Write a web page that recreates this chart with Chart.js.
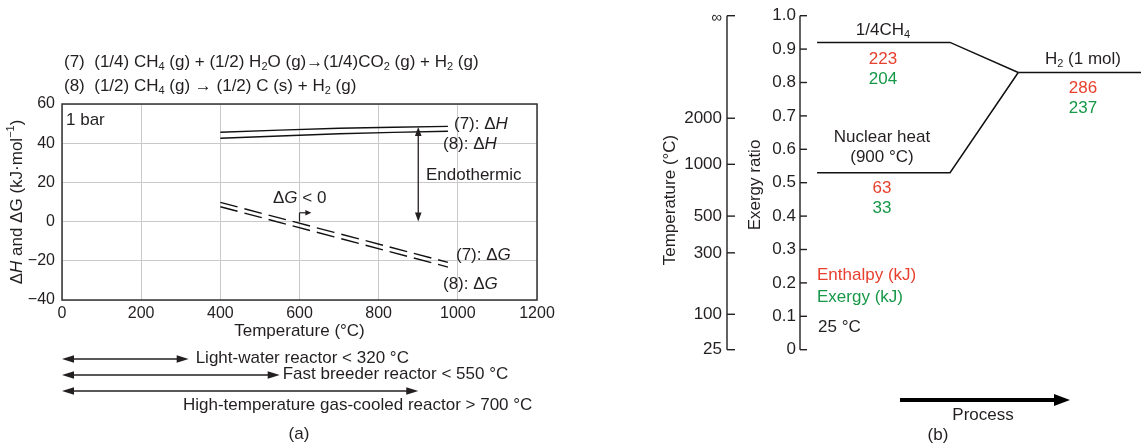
<!DOCTYPE html>
<html><head><meta charset="utf-8">
<script src="https://cdn.jsdelivr.net/npm/chart.js@4.4.1/dist/chart.umd.min.js"></script>
<style>
html,body{margin:0;padding:0;background:#fff;}
#wrap{position:relative;width:1141px;height:444px;overflow:hidden;}
canvas{position:absolute;top:0;}
</style></head>
<body>
<div id="wrap">
<canvas id="ca" width="570" height="444" style="left:0"></canvas>
<canvas id="cb" width="571" height="444" style="left:570px"></canvas>
</div>
<script>
// ---------- Panel (a) data ----------
const hX = [400, 700, 975];
const dH7 = [45.6, 47.6, 48.6];
const dH8 = [42.5, 44.8, 46.1];
const gX = [400, 975];
const dG7 = [9.8, -20.8];
const dG8 = [7.6, -23.2];
const endoT = 900;          // Endothermic arrow temperature
const dGzeroT = 600;        // ΔG < 0 marker temperature
const reactorNames = ['Light-water reactor < 320 °C', 'Fast breeder reactor < 550 °C', 'High-temperature gas-cooled reactor > 700 °C'];
const reactorLimits = [320, 550, 900];

// ---------- Panel (b) data ----------
const procX = [0.5, 4.4, 6.4, 10];
const ch4Ratio = 0.92, nucRatio = 0.53, h2Ratio = 0.83;
const exergyTicks = [0, 0.1, 0.2, 0.3, 0.4, 0.5, 0.6, 0.7, 0.8, 0.9, 1.0];
const tempLabels = ['∞', '2000', '1000', '500', '300', '100', '25'];
const tempPos = [1.0, 0.693, 0.555, 0.40, 0.29, 0.106, 0];
const enthalpyKJ = [223, 63, 286];
const exergyKJ = [204, 33, 237];

const FONT = '"Liberation Sans", Arial, Helvetica, sans-serif';
const INK = '#231f20';
const RED = '#e8402e';
const GREEN = '#169848';

function rich(ctx, x, y, parts, align, size) {
  size = size || 17;
  const fontOf = t => {
    if (t === 'sub' || t === 'sup') return Math.round(size * 0.62) + 'px ' + FONT;
    if (t === 'i') return 'italic ' + size + 'px ' + FONT;
    return size + 'px ' + FONT;
  };
  let total = 0;
  const ws = parts.map(p => { ctx.font = fontOf(p[1]); const w = ctx.measureText(p[0]).width; total += w; return w; });
  let cx = x;
  if (align === 'center') cx = x - total / 2;
  else if (align === 'right') cx = x - total;
  ctx.textAlign = 'left';
  ctx.textBaseline = 'middle';
  parts.forEach((p, i) => {
    ctx.font = fontOf(p[1]);
    let dy = 0;
    if (p[1] === 'sub') dy = size * 0.32;
    if (p[1] === 'sup') dy = -size * 0.35;
    ctx.fillText(p[0], cx, y + dy);
    cx += ws[i];
  });
}
function arrowHead(ctx, x, y, ang, len, w) {
  ctx.beginPath();
  ctx.moveTo(x, y);
  ctx.lineTo(x - len * Math.cos(ang) + w * Math.sin(ang), y - len * Math.sin(ang) - w * Math.cos(ang));
  ctx.lineTo(x - len * Math.cos(ang) - w * Math.sin(ang), y - len * Math.sin(ang) + w * Math.cos(ang));
  ctx.closePath();
  ctx.fill();
}
function arrow(ctx, x1, y1, x2, y2, both, lw, len, w) {
  lw = lw || 1.3; len = len || 9; w = w || 3.2;
  const ang = Math.atan2(y2 - y1, x2 - x1);
  ctx.lineWidth = lw;
  ctx.beginPath();
  ctx.moveTo(x1 + (both ? Math.cos(ang) * len * 0.7 : 0), y1 + (both ? Math.sin(ang) * len * 0.7 : 0));
  ctx.lineTo(x2 - Math.cos(ang) * len * 0.7, y2 - Math.sin(ang) * len * 0.7);
  ctx.stroke();
  arrowHead(ctx, x2, y2, ang, len, w);
  if (both) arrowHead(ctx, x1, y1, ang + Math.PI, len, w);
}

const pts = (xs, ys) => xs.map((x, i) => ({ x: x, y: ys[i] }));

// ---------- Chart (a) ----------
const annotA = {
  id: 'annotA',
  afterDraw(chart) {
    const ctx = chart.ctx, a = chart.chartArea;
    const xs = chart.scales.x, ys = chart.scales.y;
    ctx.save();
    ctx.strokeStyle = '#333';
    ctx.lineWidth = 1.5;
    ctx.strokeRect(a.left, a.top, a.right - a.left, a.bottom - a.top);
    ctx.fillStyle = INK; ctx.strokeStyle = INK;
    // equations
    rich(ctx, 64, 62, [['(7)  (1/4) CH', 'n'], ['4', 'sub'], [' (g) + (1/2) H', 'n'], ['2', 'sub'], ['O (g)\u2192(1/4)CO', 'n'], ['2', 'sub'], [' (g) + H', 'n'], ['2', 'sub'], [' (g)', 'n']]);
    rich(ctx, 64, 86, [['(8)  (1/2) CH', 'n'], ['4', 'sub'], [' (g) \u2192 (1/2) C (s) + H', 'n'], ['2', 'sub'], [' (g)', 'n']]);
    // 1 bar
    rich(ctx, 66, 120, [['1 bar', 'n']]);
    // line labels
    rich(ctx, 454, 124, [['(7): \u0394', 'n'], ['H', 'i']]);
    rich(ctx, 443, 144, [['(8): \u0394', 'n'], ['H', 'i']]);
    rich(ctx, 456, 255, [['(7): \u0394', 'n'], ['G', 'i']]);
    rich(ctx, 443, 284, [['(8): \u0394', 'n'], ['G', 'i']]);
    // endothermic arrow
    const ex = xs.getPixelForValue(endoT);
    arrow(ctx, ex, ys.getPixelForValue(48.3), ex, ys.getPixelForValue(0), true, 1.3, 9, 3.3);
    rich(ctx, 426, 175, [['Endothermic', 'n']]);
    // ΔG < 0
    rich(ctx, 273, 198, [['\u0394', 'n'], ['G', 'i'], [' < 0', 'n']]);
    const gx = xs.getPixelForValue(dGzeroT);
    const gy0 = ys.getPixelForValue(0), gy1 = ys.getPixelForValue(4.5);
    ctx.lineWidth = 1.2;
    ctx.beginPath(); ctx.moveTo(gx, gy0); ctx.lineTo(gx, gy1); ctx.stroke();
    arrow(ctx, gx, gy1, xs.getPixelForValue(630), gy1, false, 1.2, 6, 2.8);
    // axis titles
    ctx.fillStyle = INK;
    rich(ctx, (a.left + a.right) / 2, 331, [['Temperature (\u00b0C)', 'n']], 'center');
    ctx.save();
    ctx.translate(17, (a.top + a.bottom) / 2);
    ctx.rotate(-Math.PI / 2);
    rich(ctx, 0, 0, [['\u0394', 'n'], ['H', 'i'], [' and \u0394G (kJ\u00b7mol', 'n'], ['\u22121', 'sup'], [')', 'n']], 'center');
    ctx.restore();
    // reactor arrows
    const ry = [359, 375, 391];
    reactorLimits.forEach((t, i) => {
      arrow(ctx, xs.getPixelForValue(0), ry[i], xs.getPixelForValue(t), ry[i], true, 1.5, 12, 3.8);
    });
    rich(ctx, xs.getPixelForValue(reactorLimits[0]) + 7, ry[0] - 1, [[reactorNames[0], 'n']]);
    rich(ctx, xs.getPixelForValue(reactorLimits[1]) + 3, ry[1] - 1, [[reactorNames[1], 'n']]);
    rich(ctx, 183, 405, [[reactorNames[2], 'n']]);
    rich(ctx, 299, 434, [['(a)', 'n']], 'center');
    ctx.restore();
  }
};

const lineStyle = { borderColor: '#111', borderWidth: 1.4, pointRadius: 0, fill: false, tension: 0.3 };
new Chart(document.getElementById('ca'), {
  type: 'line',
  data: {
    datasets: [
      Object.assign({ label: '(7): ΔH', data: pts(hX, dH7) }, lineStyle),
      Object.assign({ label: '(8): ΔH', data: pts(hX, dH8) }, lineStyle),
      Object.assign({ label: '(7): ΔG', data: pts(gX, dG7), borderDash: [18, 7] }, lineStyle),
      Object.assign({ label: '(8): ΔG', data: pts(gX, dG8), borderDash: [18, 7] }, lineStyle)
    ]
  },
  options: {
    responsive: false, animation: false, devicePixelRatio: 1,
    layout: { padding: { left: 0, top: 104, right: 33, bottom: 0 } },
    plugins: { legend: { display: false }, tooltip: { enabled: false } },
    scales: {
      x: {
        type: 'linear', min: 0, max: 1200,
        afterFit: s => { s.height = 144; },
        grid: { color: '#c9c9c9', lineWidth: 1, drawTicks: false },
        border: { display: false },
        ticks: { stepSize: 200, padding: 4, color: INK, font: { family: FONT, size: 16 },
          callback: v => String(v) }
      },
      y: {
        min: -40, max: 60,
        afterFit: s => { s.width = 62; },
        grid: { color: '#c9c9c9', lineWidth: 1, drawTicks: false },
        border: { display: false },
        ticks: { stepSize: 20, padding: 7, color: INK, font: { family: FONT, size: 16 },
          callback: v => String(v).replace('-', '\u2212') }
      }
    }
  },
  plugins: [annotA]
});

// ---------- Chart (b) ----------
const annotB = {
  id: 'annotB',
  afterDraw(chart) {
    const ctx = chart.ctx, a = chart.chartArea;
    const ys = chart.scales.y;
    ctx.save();
    ctx.fillStyle = INK; ctx.strokeStyle = INK;
    ctx.lineWidth = 1.4;
    // exergy axis
    const ax = a.left, tx = 157;
    ctx.beginPath(); ctx.moveTo(ax, ys.getPixelForValue(1)); ctx.lineTo(ax, ys.getPixelForValue(0)); ctx.stroke();
    exergyTicks.forEach(v => {
      const y = ys.getPixelForValue(v);
      ctx.beginPath(); ctx.moveTo(ax, y); ctx.lineTo(ax + 7, y); ctx.stroke();
      rich(ctx, ax - 4, y, [[v === 0 ? '0' : v.toFixed(1), 'n']], 'right');
    });
    // temperature axis
    ctx.beginPath(); ctx.moveTo(tx, ys.getPixelForValue(1)); ctx.lineTo(tx, ys.getPixelForValue(0)); ctx.stroke();
    tempLabels.forEach((l, i) => {
      const y = ys.getPixelForValue(tempPos[i]);
      ctx.beginPath(); ctx.moveTo(tx, y); ctx.lineTo(tx + 8, y); ctx.stroke();
      rich(ctx, tx - 5, y + (i === 0 ? 2 : 0), [[l, 'n']], 'right', i === 0 ? 15 : 17);
    });
    // axis titles
    ctx.save(); ctx.translate(100, 200); ctx.rotate(-Math.PI / 2);
    rich(ctx, 0, 0, [['Temperature (\u00b0C)', 'n']], 'center'); ctx.restore();
    ctx.save(); ctx.translate(185, 185); ctx.rotate(-Math.PI / 2);
    rich(ctx, 0, 0, [['Exergy ratio', 'n']], 'center'); ctx.restore();
    // labels
    ctx.fillStyle = INK;
    rich(ctx, 313, 30, [['1/4CH', 'n'], ['4', 'sub']], 'center');
    rich(ctx, 513, 59, [['H', 'n'], ['2', 'sub'], [' (1 mol)', 'n']], 'center');
    rich(ctx, 312, 137, [['Nuclear heat', 'n']], 'center');
    rich(ctx, 312, 157, [['(900 \u00b0C)', 'n']], 'center');
    const cx = [313, 312, 513], ry = [59, 188, 88];
    cx.forEach((x, i) => {
      ctx.fillStyle = RED; rich(ctx, x, ry[i], [[String(enthalpyKJ[i]), 'n']], 'center');
      ctx.fillStyle = GREEN; rich(ctx, x, ry[i] + 20, [[String(exergyKJ[i]), 'n']], 'center');
    });
    ctx.fillStyle = RED; rich(ctx, 247, 275, [['Enthalpy (kJ)', 'n']]);
    ctx.fillStyle = GREEN; rich(ctx, 247, 297, [['Exergy (kJ)', 'n']]);
    ctx.fillStyle = INK; rich(ctx, 248, 327, [['25 \u00b0C', 'n']]);
    // process arrow
    ctx.fillStyle = '#000'; ctx.strokeStyle = '#000';
    arrow(ctx, 330, 400, 500, 400, false, 4, 16, 6);
    ctx.fillStyle = INK;
    rich(ctx, 413, 415, [['Process', 'n']], 'center');
    rich(ctx, 368, 435, [['(b)', 'n']], 'center');
    ctx.restore();
  }
};
const pStyle = { borderColor: '#111', borderWidth: 1.5, pointRadius: 0, fill: false, tension: 0 };
new Chart(document.getElementById('cb'), {
  type: 'line',
  data: {
    datasets: [
      Object.assign({ label: '1/4CH4', data: pts(procX.slice(0, 3), [ch4Ratio, ch4Ratio, h2Ratio]) }, pStyle),
      Object.assign({ label: 'Nuclear heat', data: pts(procX.slice(0, 3), [nucRatio, nucRatio, h2Ratio]) }, pStyle),
      Object.assign({ label: 'H2', data: pts(procX.slice(2), [h2Ratio, h2Ratio]) }, pStyle)
    ]
  },
  options: {
    responsive: false, animation: false, devicePixelRatio: 1,
    layout: { padding: { left: 230, top: 15.7, right: 0, bottom: 94.3 } },
    plugins: { legend: { display: false }, tooltip: { enabled: false } },
    scales: {
      x: { type: 'linear', min: 0, max: 10, display: false },
      y: { min: 0, max: 1, display: false }
    }
  },
  plugins: [annotB]
});
</script>
</body></html>
